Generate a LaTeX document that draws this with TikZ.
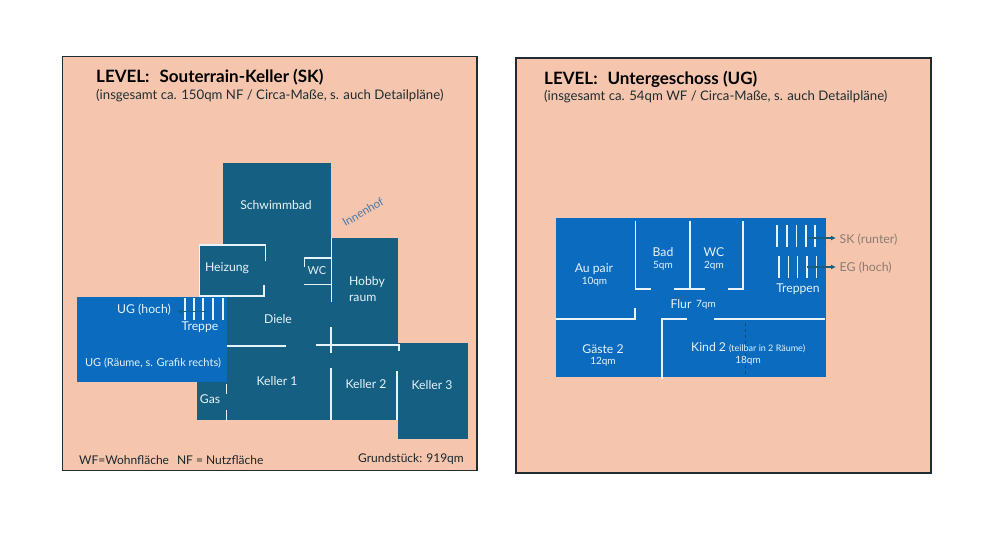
\documentclass[tikz,border=0pt]{standalone}
\usepackage{fontspec}
\setmainfont{Lato}
\usetikzlibrary{arrows.meta}
\definecolor{peach}{HTML}{F5C6AD}
\definecolor{teal}{HTML}{156082}
\definecolor{bluefl}{HTML}{0B6BBF}
\definecolor{wall}{HTML}{E6F3F8}
\definecolor{framec}{HTML}{1F2D33}
\definecolor{graytxt}{HTML}{8C7B72}
\definecolor{court}{HTML}{4A78AE}
\tikzset{
  panel/.style={draw=framec,line width=1.6pt,fill=peach},
  tealroom/.style={fill=teal,draw=none},
  blueroom/.style={fill=bluefl,draw=none},
  wallline/.style={draw=wall,line width=1.5pt,line cap=butt},
  room/.style={text=wall,font=\fontsize{12.2}{14}\selectfont,inner sep=0pt,align=center},
  roomsm/.style={text=wall,font=\fontsize{11}{13}\selectfont,inner sep=0pt,align=center},
  tiny/.style={text=wall,font=\fontsize{10}{12}\selectfont,inner sep=0pt},
  head/.style={text=black,font=\fontsize{17}{20}\selectfont\bfseries,inner sep=0pt,anchor=west},
  subhead/.style={text=framec,font=\fontsize{13.2}{16}\selectfont,inner sep=0pt,anchor=west},
  foot/.style={text=framec!85!black,font=\fontsize{12}{14}\selectfont,inner sep=0pt,anchor=west},
  sidelabel/.style={text=graytxt,font=\fontsize{12.3}{14}\selectfont,inner sep=0pt,anchor=west},
  pointer/.style={draw=teal,line width=1.2pt,-{Latex[length=5pt,width=5pt]}},
}
\begin{document}
\begin{tikzpicture}[x=1pt,y=-1pt]
\useasboundingbox (0,0) rectangle (1000,535);
\fill[white] (0,0) rectangle (1000,535);
\draw[panel] (62.5,56.5) rectangle (477,470.5);
\draw[panel] (516,58) rectangle (931,473);
% left plan
\fill[tealroom] (223,163) rectangle (331,420);
\fill[tealroom] (199,245) rectangle (264,296);
\fill[tealroom] (331,238) rectangle (398,420);
\fill[tealroom] (398,343) rectangle (468,438.5);
\fill[tealroom] (197,382) rectangle (228,420);
\fill[blueroom] (77,297) rectangle (227,382);
\draw[wallline] (265.5,261) |- (199.5,245) -- (199.5,296) -| (264,285);
\draw[wallline] (304.5,267) |- (331,258);
\draw[wallline] (304,284.5) -- (331,284.5);
\draw[wallline] (331.5,238) -- (331.5,302);
\foreach \x in {185,194,203,213,223}{\draw[wallline] (\x,298) -- (\x,320);}
\draw[wallline] (227,346) -- (286,346);
\draw[wallline] (226.5,384) -- (226.5,394);
\draw[wallline] (226.5,410) -- (226.5,420.5);
\draw[wallline] (331,327) -- (331,353);
\draw[wallline] (316,345) -| (399,351);
\draw[wallline] (331,368) -- (331,420);
\draw[wallline] (397,371) -- (397,420);
% left texts
\node[head] (ttl) at (96,77) {LEVEL:\hspace{10pt}Souterrain-Keller (SK)};
\node[subhead] (sub) at (96,96) {(insgesamt ca. 150qm NF / Circa-Maße, s. auch Detailpläne)};
\node[room] (schw) at (276,205) {Schwimmbad};
\node[room] (heiz) at (227,268) {Heizung};
\node[roomsm] (wc) at (317,271) {WC};
\node[room,align=left] (hobby) at (367,289) {Hobby\\[2pt]raum};
\node[room] (diele) at (278,319) {Diele};
\node[room] (ugh) at (144,310) {UG (hoch)};
\node[room] (trep) at (200,327) {Treppe};
\node[roomsm] (ugr) at (153,363) {UG (Räume, s. Grafik rechts)};
\node[room] (gas) at (210,399) {Gas};
\node[room] (k1) at (277,381) {Keller 1};
\node[room] (k2) at (366,384) {Keller 2};
\node[room] (k3) at (432,385) {Keller 3};
\node[text=court,font=\fontsize{11.5}{13}\selectfont,rotate=30,inner sep=0pt] (hof) at (363,212) {Innenhof};
\node[foot] (wf) at (79,460) {WF=Wohnfläche\hspace{8pt}NF = Nutzfläche};
\node[foot,anchor=east] (gst) at (464,459) {Grundstück: 919qm};
\coordinate (ugstart) at (206,311.5);
\coordinate (ugend) at (177,311.5);
\draw[pointer] (ugstart) -- (ugend);
% right plan
\fill[blueroom] (556,218) rectangle (826,377);
\draw[wallline] (635.5,221) |- (651,289);
\draw[wallline] (674,289) -- (705,289);
\draw[wallline] (690,221) -- (690,289);
\draw[wallline] (728,289) -| (743,221);
\draw[wallline] (556,319) -| (635,308);
\draw[wallline] (662,379) |- (687,319);
\draw[wallline] (714,319) -- (825,319);
\foreach \x in {777,787,796.5,806,815}{\draw[wallline] (\x,225) -- (\x,247);}
\foreach \x in {779,788.5,797.5,807,816.5}{\draw[wallline] (\x,256) -- (\x,278);}
\draw[draw=teal!80!black,line width=1pt,dashed] (745,323) -- (745,375);
% right texts
\node[head] (ttlr) at (544,79) {LEVEL:\hspace{10pt}Untergeschoss (UG)};
\node[subhead] (subr) at (544,97) {(insgesamt ca. 54qm WF / Circa-Maße, s. auch Detailpläne)};
\node[room] (aupair) at (594,269) {Au pair};
\node[tiny] (aupq) at (594.5,282) {10qm};
\node[room] (bad) at (663,252) {Bad};
\node[tiny] (badq) at (663,265.5) {5qm};
\node[room] (wcr) at (714,252) {WC};
\node[tiny] (wcq) at (714,265.5) {2qm};
\node[room] (tr) at (798,289.5) {Treppen};
\node[room] (flur) at (681,304) {Flur};
\node[tiny] (flq) at (706,304.5) {7qm};
\node[room] (gaeste) at (603,349) {Gäste 2};
\node[tiny] (gaq) at (603,362) {12qm};
\node[room,anchor=west] (kind) at (691,347.5) {Kind 2 {\fontsize{9}{11}\selectfont(teilbar in 2 Räume)}};
\node[tiny] (kiq) at (748,361) {18qm};
\node[sidelabel] (sk) at (839.5,240) {SK (runter)};
\node[sidelabel] (eg) at (839.5,268) {EG (hoch)};
\coordinate (skstart) at (807,238);
\coordinate (skend) at (836,238);
\coordinate (egstart) at (807,267);
\coordinate (egend) at (836,267);
\draw[pointer] (skstart) -- (skend);
\draw[pointer] (egstart) -- (egend);
\end{tikzpicture}
\end{document}
